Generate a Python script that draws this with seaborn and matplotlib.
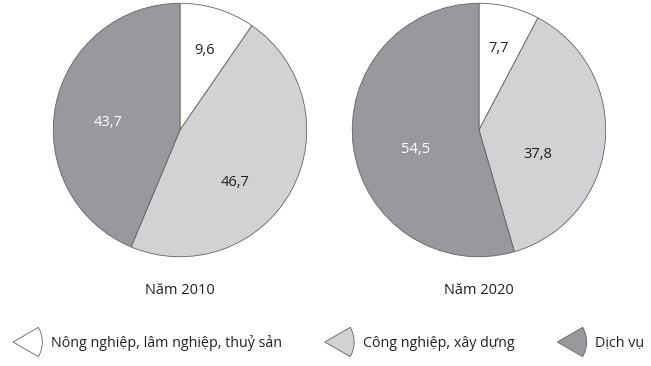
import matplotlib
matplotlib.use("Agg")
import numpy as np
import matplotlib.pyplot as plt
import matplotlib.patches as mpatches
from matplotlib.legend_handler import HandlerPatch
import seaborn as sns

# Cơ cấu GDP (%)
sectors = ["Nông nghiệp, lâm nghiệp, thuỷ sản", "Công nghiệp, xây dựng", "Dịch vụ"]
years = ["Năm 2010", "Năm 2020"]
values_2010 = [9.6, 46.7, 43.7]
values_2020 = [7.7, 37.8, 54.5]
colors = ["#ffffff", "#d1d2d4", "#98999c"]
label_colors = ["#231f20", "#231f20", "#ffffff"]
edge = "#616265"

# label placement per slice: (distance from centre, angle shift in degrees)
label_pos_2010 = [(0.66, 0), (0.6, -15), (0.57, 5)]
label_pos_2020 = [(0.66, 0), (0.5, -17), (0.52, 9)]

sns.set_theme(style="white")
plt.rcParams['font.family'] = ['Open Sans', 'DejaVu Sans']


class WedgeHandler(HandlerPatch):
    # pie-slice shaped legend key, apex on the left
    def create_artists(self, legend, orig_handle, xdescent, ydescent,
                       width, height, fontsize, trans):
        r = width
        w = mpatches.Wedge((-xdescent, height / 2 - ydescent), r, -30, 30,
                           facecolor=orig_handle.get_facecolor(),
                           edgecolor=edge, lw=0.6)
        w.set_transform(trans)
        return [w]


fig = plt.figure(figsize=(6.51, 3.66), dpi=100)
fig.patch.set_facecolor("white")

positions = [[52 / 651, 108 / 366, 256 / 651, 256 / 366],
             [351 / 651, 108 / 366, 256 / 651, 256 / 366]]

for pos, vals, year, lpos in zip(positions, [values_2010, values_2020], years,
                                 [label_pos_2010, label_pos_2020]):
    ax = fig.add_axes(pos)
    wedges, texts, autotexts = ax.pie(
        vals, colors=colors, startangle=90, counterclock=False,
        autopct=lambda p: f"{p:.1f}".replace(".", ","), pctdistance=0.6,
        wedgeprops=dict(edgecolor=edge, linewidth=0.6))
    for w, t, c, (d, shift) in zip(wedges, autotexts, label_colors, lpos):
        ang = np.deg2rad((w.theta1 + w.theta2) / 2 + shift)
        t.set_position((d * np.cos(ang), d * np.sin(ang)))
        t.set_color(c)
        t.set_fontsize(10.5)
    ax.set_xlim(-1.01, 1.01)
    ax.set_ylim(-1.01, 1.01)
    ax.set_aspect("equal")
    ax.text(0, -1.27, year, ha="center", va="center", fontsize=10.5, color="#231f20")
    ax.axis("off")

handles = [mpatches.Patch(facecolor=c, edgecolor=edge, label=s) for c, s in zip(colors, sectors)]
fig.legend(handles=handles, loc="center left", bbox_to_anchor=(13 / 651, 23 / 366),
           ncol=3, frameon=False, fontsize=10.3, borderpad=0, borderaxespad=0,
           handlelength=2.05, handletextpad=0.6, columnspacing=3.0,
           handler_map={mpatches.Patch: WedgeHandler()}, labelcolor="#231f20")

fig.savefig("out.png", dpi=100)
